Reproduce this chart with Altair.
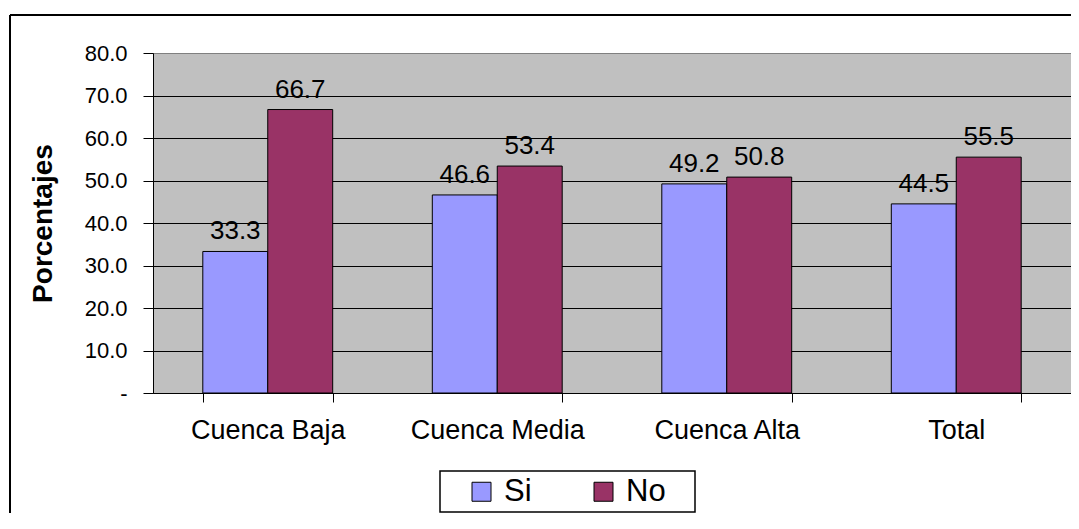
import altair as alt
import pandas as pd

categories = ["Cuenca Baja", "Cuenca Media", "Cuenca Alta", "Total"]
series = ["Si", "No"]
si_values = [33.3, 46.6, 49.2, 44.5]
no_values = [66.7, 53.4, 50.8, 55.5]
y_ticks = [0, 10, 20, 30, 40, 50, 60, 70, 80]

rows = []
for c, s, n in zip(categories, si_values, no_values):
    rows.append({"cat": c, "serie": "Si", "valor": s})
    rows.append({"cat": c, "serie": "No", "valor": n})
df = pd.DataFrame(rows)

FONT = "Liberation Sans"
W, H = 918, 340

x_enc = alt.X("cat:N", sort=categories, title=None,
              scale=alt.Scale(paddingInner=0.434, paddingOuter=0.217),
              axis=alt.Axis(labelAngle=0, labelFontSize=27, labelColor="black",
                            labelPadding=15, tickBand="extent", tickSize=9,
                            tickColor="black", domainColor="black",
                            labelFont=FONT))
y_enc = alt.Y("valor:Q", title="Porcentajes",
              scale=alt.Scale(domain=[0, 80], nice=False),
              axis=alt.Axis(values=y_ticks,
                            labelExpr="datum.value == 0 ? '-' : format(datum.value, '.1f')",
                            labelFontSize=22, labelColor="black", labelPadding=16,
                            tickSize=10, tickColor="black", domainColor="black",
                            grid=True, gridWidth=1,
                            gridColor={"condition": {"test": "datum.value == 80", "value": "#808080"},
                                       "value": "black"},
                            titleFontSize=28, titleFontWeight="bold", titleAngle=270,
                            titleX=-110, titleY=170, titleAlign="center",
                            titleBaseline="middle", titleColor="black",
                            labelFont=FONT, titleFont=FONT))
xoff = alt.XOffset("serie:N", sort=series, scale=alt.Scale(paddingInner=0, paddingOuter=0))

bars = alt.Chart(df).mark_bar(stroke="black", strokeWidth=1).encode(
    x=x_enc, xOffset=xoff, y=y_enc,
    color=alt.Color("serie:N", sort=series,
                    scale=alt.Scale(domain=series, range=["#9999FF", "#993366"]),
                    legend=alt.Legend(title=None, orient="none", legendX=313, legendY=423,
                                      direction="horizontal", columns=2,
                                      symbolType="square", symbolSize=361,
                                      symbolStrokeColor="black", symbolStrokeWidth=1,
                                      symbolOpacity=1,
                                      labelFontSize=31, labelFont=FONT, labelColor="black",
                                      labelOffset=7, columnPadding=56, padding=0)),
)

labels = alt.Chart(df).mark_text(dy=-12, baseline="alphabetic", fontSize=26,
                                 font=FONT, color="black").encode(
    x=alt.X("cat:N", sort=categories), xOffset=alt.XOffset("serie:N", sort=series),
    y="valor:Q",
    text=alt.Text("valor:Q", format=".1f"),
)

one = pd.DataFrame({"k": [0]})
frame_top = alt.Chart(one).mark_rule(color="black", strokeWidth=2).encode(
    x=alt.value(-143), x2=alt.value(1000), y=alt.value(-38))
frame_left = alt.Chart(one).mark_rule(color="black", strokeWidth=2).encode(
    x=alt.value(-143), y=alt.value(-38), y2=alt.value(600))
legend_box = alt.Chart(one).mark_rect(fill="white", stroke="black", strokeWidth=1.5).encode(
    x=alt.value(287), x2=alt.value(542), y=alt.value(418), y2=alt.value(459))

chart = alt.layer(bars, labels, frame_top, frame_left, legend_box).properties(
    width=W, height=H,
    autosize=alt.AutoSizeParams(type="none"),
    padding={"left": 145, "top": 45, "right": 0, "bottom": 120},
    background="white",
).configure(font=FONT).configure_view(
    fill="#C0C0C0", stroke="#808080", strokeWidth=1
)

chart.save("out.html", embed_options={"renderer": "svg", "actions": False})
